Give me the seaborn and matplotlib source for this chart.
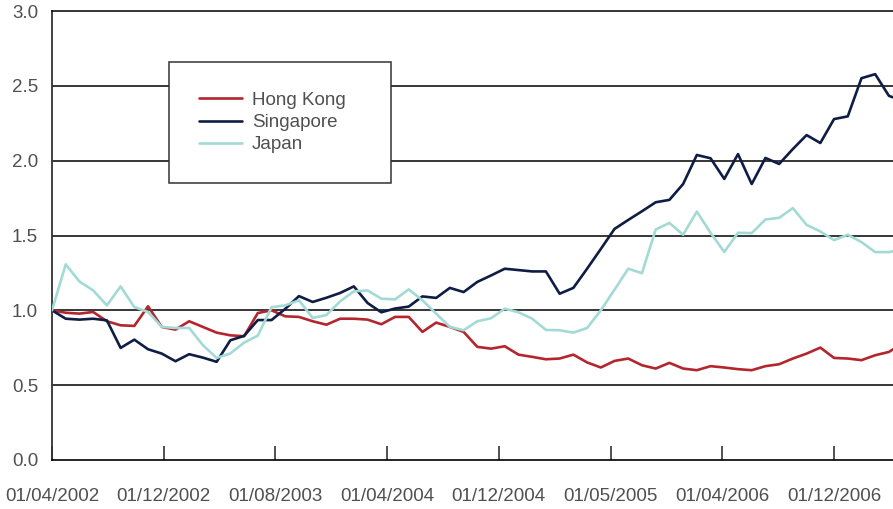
import numpy as np
import pandas as pd
import matplotlib
matplotlib.use("Agg")
import matplotlib.pyplot as plt
import seaborn as sns

# ---- data ----
hong_kong = [1.00, 0.984, 0.978, 0.989, 0.927, 0.900, 0.896, 1.027, 0.889, 0.871,
             0.927, 0.889, 0.851, 0.833, 0.827, 0.982, 1.000, 0.960, 0.956, 0.927,
             0.904, 0.944, 0.944, 0.938, 0.907, 0.956, 0.956, 0.856, 0.918, 0.889,
             0.856, 0.756, 0.744, 0.760, 0.704, 0.689, 0.673, 0.678, 0.704, 0.652,
             0.618, 0.662, 0.678, 0.633, 0.611, 0.649, 0.611, 0.600, 0.627, 0.618,
             0.607, 0.600, 0.627, 0.640, 0.678, 0.711, 0.751, 0.682, 0.678, 0.667,
             0.700, 0.722, 0.780]
singapore = [1.00, 0.944, 0.938, 0.944, 0.933, 0.749, 0.804, 0.740, 0.711, 0.660,
             0.707, 0.684, 0.656, 0.800, 0.829, 0.935, 0.935, 1.010, 1.095, 1.056,
             1.084, 1.116, 1.160, 1.049, 0.987, 1.012, 1.025, 1.093, 1.083, 1.150,
             1.122, 1.190, 1.233, 1.278, 1.269, 1.260, 1.260, 1.111, 1.150, 1.278,
             1.410, 1.544, 1.604, 1.662, 1.722, 1.738, 1.844, 2.038, 2.016, 1.878,
             2.044, 1.844, 2.018, 1.978, 2.078, 2.171, 2.118, 2.278, 2.296, 2.551,
             2.578, 2.433, 2.400]
japan = [1.00, 1.307, 1.193, 1.133, 1.033, 1.160, 1.022, 0.989, 0.889, 0.882,
         0.882, 0.767, 0.682, 0.712, 0.784, 0.831, 1.021, 1.033, 1.067, 0.949,
         0.969, 1.060, 1.127, 1.133, 1.078, 1.073, 1.140, 1.067, 0.978, 0.889,
         0.867, 0.927, 0.947, 1.011, 0.987, 0.944, 0.869, 0.867, 0.851, 0.882,
         1.000, 1.138, 1.278, 1.248, 1.540, 1.584, 1.505, 1.660, 1.518, 1.390,
         1.518, 1.516, 1.607, 1.618, 1.683, 1.571, 1.527, 1.469, 1.505, 1.456,
         1.389, 1.389, 1.410]
series_names = ["Hong Kong", "Singapore", "Japan"]
tick_labels = ["01/04/2002", "01/12/2002", "01/08/2003", "01/04/2004",
               "01/12/2004", "01/05/2005", "01/04/2006", "01/12/2006"]
y_ticks = [0.0, 0.5, 1.0, 1.5, 2.0, 2.5, 3.0]

colors = {"Hong Kong": "#B3262E", "Singapore": "#0F1D45", "Japan": "#A3DAD6"}

n = len(hong_kong)
df = pd.DataFrame({
    "idx": np.tile(np.arange(n), 3),
    "value": hong_kong + singapore + japan,
    "series": np.repeat(series_names, n),
})

sns.set_theme(style="white")
plt.rcParams["font.family"] = ["Liberation Sans", "DejaVu Sans"]

fig = plt.figure(figsize=(8.93, 5.09), dpi=100)
ax = fig.add_axes([52 / 893, 1 - 460 / 509, 1 - 52 / 893, (460 - 11) / 509])

sns.lineplot(data=df, x="idx", y="value", hue="series", hue_order=series_names,
             palette=colors, linewidth=1.9, ax=ax, zorder=3, legend=True)

step = 13.72  # px per data point
tick_every = 111.7 / step
ax.set_xlim(0, (893 - 52) / step)
ax.set_ylim(0, 3)

ax.set_xticks([k * tick_every for k in range(len(tick_labels))])
ax.set_xticklabels(tick_labels)
ax.set_yticks(y_ticks)
ax.set_yticklabels([f"{v:.1f}" for v in y_ticks])

text_color = "#505050"
ax.tick_params(axis="x", direction="in", length=10, width=1.1, color="#222222",
               pad=20, labelsize=13.5, labelcolor=text_color, bottom=True)
ax.tick_params(axis="y", length=0, pad=10, labelsize=13.5, labelcolor=text_color)

for yv in y_ticks[1:-1]:
    ax.axhline(yv, color="black", linewidth=1.1, zorder=1)

ax.spines["right"].set_visible(False)
ax.spines["top"].set_color("black")
ax.spines["top"].set_linewidth(1.1)
ax.spines["bottom"].set_color("black")
ax.spines["bottom"].set_linewidth(1.2)
ax.spines["left"].set_color("#333333")
ax.spines["left"].set_linewidth(1.3)

ax.set_xlabel("")
ax.set_ylabel("")

leg_x0 = 169 / 893
leg_top = 1 - 62 / 509
leg_w = (391 - 169) / 893
handles, labels = ax.get_legend_handles_labels()
for h in handles:
    h.set_linewidth(1.9)
leg = ax.legend(handles, labels, loc="upper left",
                bbox_to_anchor=(leg_x0, leg_top - 0.3, leg_w, 0.3),
                bbox_transform=fig.transFigure, mode="expand",
                frameon=True, fancybox=False, framealpha=1, borderpad=1.58,
                labelspacing=0.28, handlelength=2.3, handletextpad=0.55,
                fontsize=13.5, borderaxespad=0)
leg.get_frame().set_edgecolor("#333333")
leg.get_frame().set_linewidth(1.1)
for t in leg.get_texts():
    t.set_color(text_color)
leg.set_zorder(5)

fig.savefig("out.png", dpi=100)
